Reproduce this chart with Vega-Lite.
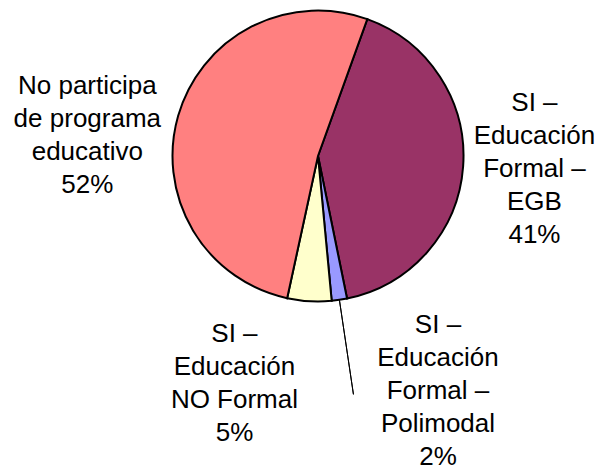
{
  "$schema": "https://vega.github.io/schema/vega-lite/v6.json",
  "autosize": {"type": "none"},
  "padding": {"left": 38, "top": 0, "right": 0, "bottom": 159},
  "width": 560,
  "height": 312,
  "background": "white",
  "config": {"view": {"stroke": null}, "font": "Liberation Sans"},
  "data": {
    "values": [
      {"cat": "EGB", "label": "SI –\nEducación\nFormal –\nEGB\n41%", "v": 41.3, "orden": 1},
      {"cat": "Polimodal", "label": "SI –\nEducación\nFormal –\nPolimodal\n2%", "v": 1.7, "orden": 2},
      {"cat": "NO Formal", "label": "SI –\nEducación\nNO Formal\n5%", "v": 4.9, "orden": 3},
      {"cat": "No participa", "label": "No participa\nde programa\neducativo\n52%", "v": 52.1, "orden": 4}
    ]
  },
  "layer": [
    {
      "mark": {"type": "arc", "radius": 145.5, "stroke": "black", "strokeWidth": 2},
      "encoding": {
        "theta": {"field": "v", "type": "quantitative", "stack": true, "scale": {"range": [0.3456, 6.6288]}},
        "order": {"field": "orden", "type": "quantitative"},
        "color": {"field": "cat", "type": "nominal", "legend": null,
          "scale": {"domain": ["EGB", "Polimodal", "NO Formal", "No participa"], "range": ["#993366", "#9999FF", "#FFFFCC", "#FF8080"]}}
      }
    },
    {
      "mark": {"type": "arc", "radius": 241, "radius2": 146, "padAngle": 0.2, "fill": null, "fillOpacity": 0, "stroke": "black", "strokeWidth": 1},
      "encoding": {
        "theta": {"field": "v", "type": "quantitative", "stack": true},
        "order": {"field": "orden", "type": "quantitative"},
        "strokeOpacity": {"condition": {"test": "datum.cat === 'Polimodal'", "value": 1}, "value": 0}
      }
    },
    {
      "mark": {"type": "text", "radius": 217, "dx": 0, "dy": -61, "align": "center", "baseline": "alphabetic", "fontSize": 26, "lineHeight": 33, "lineBreak": "\n", "font": "Liberation Sans", "color": "black"},
      "encoding": {
        "theta": {"field": "v", "type": "quantitative", "stack": true},
        "order": {"field": "orden", "type": "quantitative"},
        "text": {"condition": {"test": "datum.cat === 'EGB'", "field": "label", "type": "nominal"}, "value": ""}
      }
    },
    {
      "mark": {"type": "text", "radius": 240, "dx": 0, "dy": 4.5, "align": "center", "baseline": "alphabetic", "fontSize": 26, "lineHeight": 33, "lineBreak": "\n", "font": "Liberation Sans", "color": "black"},
      "encoding": {
        "theta": {"field": "v", "type": "quantitative", "stack": true},
        "order": {"field": "orden", "type": "quantitative"},
        "text": {"condition": {"test": "datum.cat === 'No participa'", "field": "label", "type": "nominal"}, "value": ""}
      }
    },
    {
      "mark": {"type": "text", "radius": 180, "dx": 93.5, "dy": -1, "align": "center", "baseline": "alphabetic", "fontSize": 26, "lineHeight": 33, "lineBreak": "\n", "font": "Liberation Sans", "color": "black"},
      "encoding": {
        "theta": {"field": "v", "type": "quantitative", "stack": true},
        "order": {"field": "orden", "type": "quantitative"},
        "text": {"condition": {"test": "datum.cat === 'Polimodal'", "field": "label", "type": "nominal"}, "value": ""}
      }
    },
    {
      "mark": {"type": "text", "radius": 180, "dx": -72.8, "dy": 6, "align": "center", "baseline": "alphabetic", "fontSize": 26, "lineHeight": 33, "lineBreak": "\n", "font": "Liberation Sans", "color": "black"},
      "encoding": {
        "theta": {"field": "v", "type": "quantitative", "stack": true},
        "order": {"field": "orden", "type": "quantitative"},
        "text": {"condition": {"test": "datum.cat === 'NO Formal'", "field": "label", "type": "nominal"}, "value": ""}
      }
    }
  ]
}
